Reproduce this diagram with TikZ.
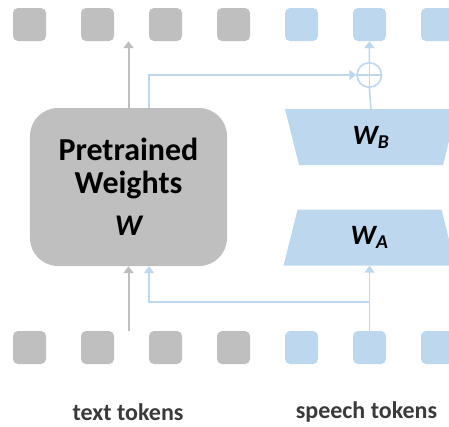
\documentclass[tikz,border=0pt]{standalone}
\usepackage{fontspec}
\setmainfont{Carlito}
\usetikzlibrary{arrows.meta}
\definecolor{frozen}{HTML}{BFBFBF}
\definecolor{lora}{HTML}{BDD7EE}
\definecolor{labelgray}{HTML}{3A3A3A}
\tikzset{
  token/.style={rectangle,rounded corners=5bp,minimum size=33bp,inner sep=0pt},
  lorabox/.style={rectangle,minimum width=172bp,minimum height=56bp,inner sep=0pt,
    font=\fontsize{28bp}{30bp}\selectfont\bfseries\itshape},
  % wide side on top
  widetop/.style={lorabox,path picture={\fill[lora]
    (path picture bounding box.north west) -- (path picture bounding box.north east)
    -- ([xshift=-14bp]path picture bounding box.south east)
    -- ([xshift=14bp]path picture bounding box.south west) -- cycle;}},
  % wide side at the bottom
  widebottom/.style={lorabox,path picture={\fill[lora]
    ([xshift=14bp]path picture bounding box.north west)
    -- ([xshift=-14bp]path picture bounding box.north east)
    -- (path picture bounding box.south east)
    -- (path picture bounding box.south west) -- cycle;}},
  grayline/.style={draw=frozen,line width=2bp},
  blueline/.style={draw=lora,line width=1.6bp},
  tip/.style={-{Triangle[width=10bp,length=7bp]}}
}
\begin{document}
\begin{tikzpicture}[x=1bp,y=-1bp]
\useasboundingbox (0,0) rectangle (449,426);
% token rows
\foreach \i in {0,...,6}{
  \ifnum\i<4 \def\tc{frozen}\else \def\tc{lora}\fi
  \node[token,fill=\tc] (out\i) at (29.5+68*\i,24.5) {};
  \node[token,fill=\tc] (in\i) at (29.5+68*\i,347.5) {};
}
\node[labelgray,font=\fontsize{24bp}{26bp}\selectfont\bfseries] (txt) at (128,412) {text tokens};
\node[labelgray,font=\fontsize{24bp}{26bp}\selectfont\bfseries] (sph) at (366.5,412) {speech tokens};
% frozen weights
\node[fill=frozen,rounded corners=28bp,minimum width=197bp,minimum height=158bp,
  align=center,font=\fontsize{32bp}{33bp}\selectfont\bfseries] (pw) at (128.5,187)
  {Pretrained\\Weights\\[9bp]{\fontsize{30bp}{30bp}\selectfont\itshape W}};
% low-rank branch
\node[widetop] (wb) at (371,137) {W\textsubscript{B}};
\node[widebottom] (wa) at (369.5,237.5) {W\textsubscript{A}};
\node[circle,blueline,fill=white,minimum size=24.5bp,inner sep=0pt] (sum) at (369.3,75) {};
\draw[blueline] (sum.west) -- (sum.east);
\coordinate (split) at (369.5,301.7);
% connectors
\draw[grayline,tip] (pw.south |- in1.north) -- (pw.south);
\draw[grayline,tip] (pw.north) -- (pw.north |- out1.south);
\draw[blueline] (wb.north) -- (sum.south);
\draw[blueline] (sum.south) -- (sum.north);
\draw[blueline,tip] (sum.north) -- (out5.south);
\draw[blueline,tip] ([xshift=20.5bp]pw.north) |- (sum.west);
\draw[blueline,tip] (in5.north) -- (wa.south);
\draw[blueline,tip] (split) -| ([xshift=20.5bp]pw.south);
\end{tikzpicture}
\end{document}
